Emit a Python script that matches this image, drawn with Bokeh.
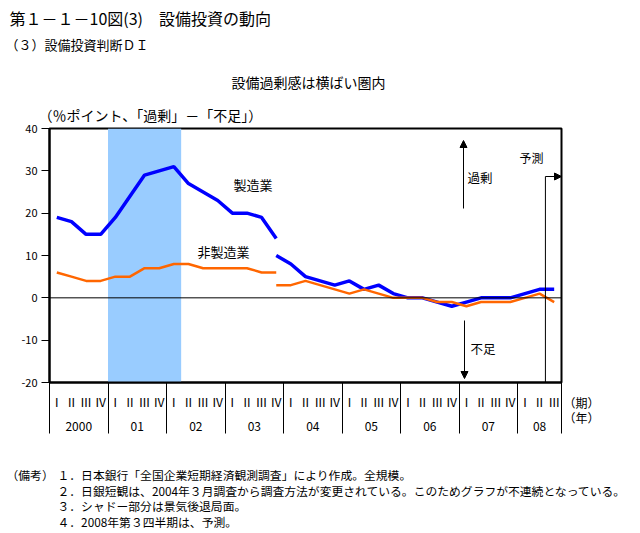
from bokeh.plotting import figure
from bokeh.models import (FixedTicker, LinearAxis, Label, Arrow, NormalHead,
                          BoxAnnotation, Span, Range1d)
from bokeh.embed import file_html
from bokeh.resources import INLINE

# ---------------- data ----------------
years = ["2000", "01", "02", "03", "04", "05", "06", "07", "08"]
quarters_per_year = [4, 4, 4, 4, 4, 4, 4, 4, 3]
quarter_labels = ["Ⅰ", "Ⅱ", "Ⅲ", "Ⅳ"]

# old survey basis: 2000 Q1 - 2003 Q4
mfg_old = [19, 18, 15, 15, 19, 24, 29, 30, 31, 27, 25, 23, 20, 20, 19, 14]
non_old = [6, 5, 4, 4, 5, 5, 7, 7, 8, 8, 7, 7, 7, 7, 6, 6]
# new survey basis: 2003 Q4 - 2008 Q3 (2008 Q3 = forecast)
mfg_new = [10, 8, 5, 4, 3, 4, 2, 3, 1, 0, 0, -1, -2, -1, 0, 0, 0, 1, 2, 2]
non_new = [3, 3, 4, 3, 2, 1, 2, 1, 0, 0, 0, -1, -1, -2, -1, -1, -1, 0, 1, -1]

recession_first_q = 4   # 2001 Q1
recession_last_q = 8    # 2002 Q1
forecast_q = 34         # 2008 Q3

y_ticks = [-20, -10, 0, 10, 20, 30, 40]

# ---------------- derived ----------------
n = sum(quarters_per_year)
q_idx = list(range(n))
old_x = q_idx[:len(mfg_old)]
new_x = q_idx[n - len(mfg_new):]
q_tick_labels = {i: quarter_labels[j] for i, j in
                 zip(q_idx, [k for c in quarters_per_year for k in range(c)])}
bounds = [-0.5]
for c in quarters_per_year:
    bounds.append(bounds[-1] + c)
year_centers = [(bounds[i] + bounds[i + 1]) / 2 for i in range(len(years))]

FONT = "Noto Sans CJK JP"
W, H = 640, 533
FX0, FW, FY0, FH = 49, 512, 128, 254
XMIN, XMAX, YMIN, YMAX = -0.5, n - 0.5, -20, 40


def dx(px):
    return XMIN + (px - FX0) / FW * (XMAX - XMIN)


def dy(py):
    return YMAX - (py - FY0) / FH * (YMAX - YMIN)


p = figure(frame_width=FW, frame_height=FH,
           x_range=Range1d(XMIN, XMAX), y_range=Range1d(YMIN, YMAX),
           output_backend="svg", toolbar_location=None,
           min_border_left=FX0, min_border_right=W - FX0 - FW,
           min_border_top=FY0, min_border_bottom=H - FY0 - FH,
           background_fill_color="white", border_fill_color="white",
           outline_line_color="black", outline_line_width=2)
p.grid.visible = False

# shading (recession)
p.add_layout(BoxAnnotation(left=recession_first_q - 0.5, right=recession_last_q + 0.5,
                           fill_color="#99CCFF", fill_alpha=1.0, line_color=None,
                           level="underlay"))
p.add_layout(Span(location=0, dimension="width", line_color="black", line_width=1))

p.line(old_x, mfg_old, line_color="#0000FF", line_width=3.5)
p.line(new_x, mfg_new, line_color="#0000FF", line_width=3.5)
p.line(old_x, non_old, line_color="#FF6600", line_width=2.5)
p.line(new_x, non_new, line_color="#FF6600", line_width=2.5)

# y axis
ya = p.yaxis[0]
ya.ticker = FixedTicker(ticks=y_ticks, minor_ticks=[])
ya.major_label_overrides = {t: str(t) for t in y_ticks}
ya.major_tick_out = 8
ya.major_tick_in = 0
ya.axis_line_width = 2
ya.major_tick_line_width = 1
ya.major_label_standoff = 4
ya.major_label_text_font = FONT
ya.major_label_text_font_size = "11px"
ya.major_label_text_color = "black"

# x axis: quarters + year separators (minor ticks)
xa = p.xaxis[0]
xa.ticker = FixedTicker(ticks=q_idx, minor_ticks=bounds)
xa.major_label_overrides = q_tick_labels
xa.major_tick_out = 0
xa.major_tick_in = 0
xa.minor_tick_out = 51
xa.minor_tick_in = 0
xa.minor_tick_line_color = "black"
xa.minor_tick_line_width = 1
xa.axis_line_width = 2
xa.major_label_standoff = -41
xa.major_label_text_font = FONT
xa.major_label_text_font_size = "12px"
xa.major_label_text_color = "black"

yr_axis = LinearAxis(ticker=FixedTicker(ticks=year_centers, minor_ticks=[]),
                     major_label_overrides={c: y for c, y in zip(year_centers, years)},
                     axis_line_color=None, major_tick_out=0, major_tick_in=0,
                     minor_tick_out=0, minor_tick_in=0,
                     major_label_standoff=9, major_label_text_font=FONT,
                     major_label_text_font_size="12px", major_label_text_color="black")
p.add_layout(yr_axis, "below")


def lab_in(px, py, text, size="12px"):
    p.add_layout(Label(x=dx(px), y=dy(py), text=text, text_font=FONT,
                       text_font_size=size, text_baseline="middle",
                       text_align="left", text_color="black"))


def lab_out(px, py, text, size, panel):
    p.add_layout(Label(x=px, y=py, x_units="canvas", y_units="canvas",
                       text=text, text_font=FONT, text_font_size=size,
                       text_baseline="middle", text_align="left",
                       text_color="black"), panel)


# header texts (outside the frame, in side panels)
lab_out(9, 17, "第１－１－10図(3)　設備投資の動向", "16px", "above")
lab_out(5, 44, "（３）設備投資判断ＤＩ", "13px", "above")
lab_out(231, 81, "設備過剰感は横ばい圏内", "14px", "above")
lab_out(38, 114, "（％ポイント、「過剰」－「不足」）", "14px", "above")
lab_out(563, 402, "（期）", "12px", "right")
lab_out(563, 417, "（年）", "12px", "right")

notes_head = "（備考）"
notes = ["１．日本銀行「全国企業短期経済観測調査」により作成。全規模。",
         "２．日銀短観は、2004年３月調査から調査方法が変更されている。このためグラフが不連続となっている。",
         "３．シャドー部分は景気後退局面。",
         "４．2008年第３四半期は、予測。"]
lab_out(6, 474, notes_head, "11.8px", "below")
for k, t in enumerate(notes):
    lab_out(57, 474 + k * 15.7, t, "11.8px", "below")

# texts inside the frame
lab_in(233, 184, "製造業", "13px")
lab_in(197, 251, "非製造業", "13px")
lab_in(467, 177, "過剰", "12.5px")
lab_in(470, 348, "不足", "12.5px")
lab_in(519, 157, "予測", "12px")

# arrows
head = dict(size=7, fill_color="black", line_color="black")
p.add_layout(Arrow(end=NormalHead(**head), x_start=dx(463), y_start=dy(208),
                   x_end=dx(463), y_end=dy(140), line_width=1, line_color="black"))
p.add_layout(Arrow(end=NormalHead(**head), x_start=dx(464), y_start=dy(320),
                   x_end=dx(464), y_end=dy(378), line_width=1, line_color="black"))
fx = forecast_q - 0.6
p.add_layout(Arrow(end=None, x_start=fx, y_start=YMIN, x_end=fx, y_end=dy(176),
                   line_width=1, line_color="black"))
p.add_layout(Arrow(end=NormalHead(**head), x_start=fx, y_start=dy(176),
                   x_end=XMAX, y_end=dy(176), line_width=1, line_color="black"))

open("out.html", "w").write(file_html(p, INLINE))
